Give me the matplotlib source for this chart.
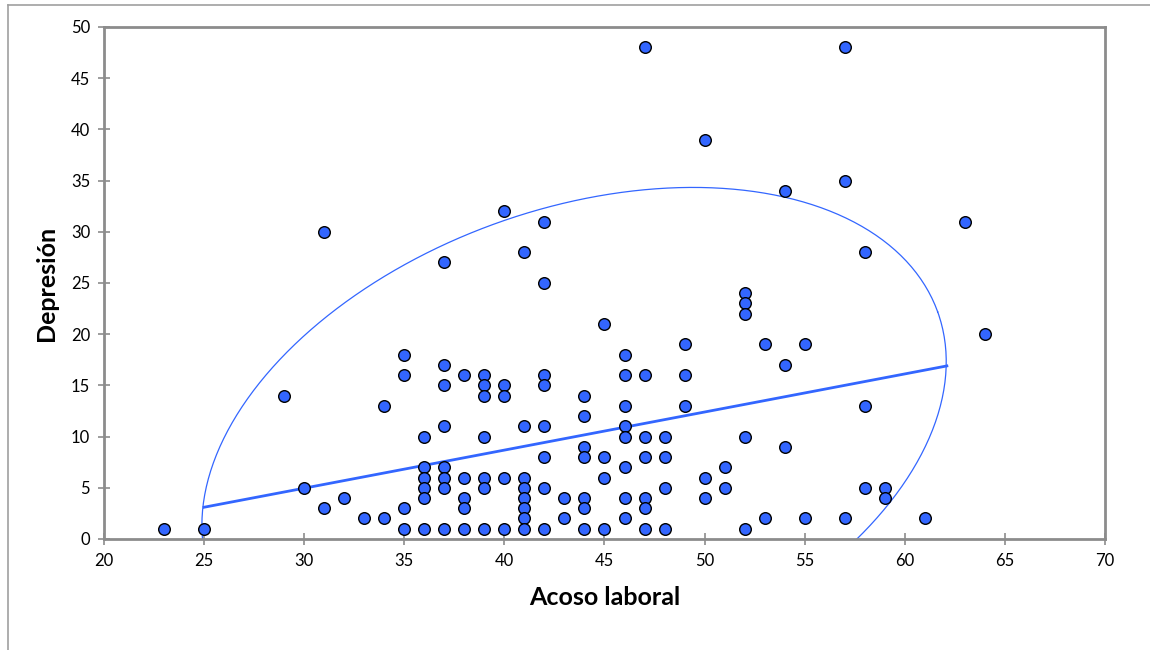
import numpy as np
import matplotlib
matplotlib.use("Agg")
import matplotlib.pyplot as plt
from matplotlib.lines import Line2D

plt.rcParams["font.family"] = ["Lato", "DejaVu Sans"]

# datos (acoso laboral, depresión)
acoso = (
    [23, 25, 29, 30, 31, 31, 32, 33, 34, 34]
    + [35] * 4 + [36] * 6 + [37] * 8 + [38] * 5 + [39] * 7 + [40] * 5
    + [41] * 8 + [42] * 8 + [43] * 2 + [44] * 7 + [45] * 4 + [46] * 8
    + [47] * 7 + [48] * 4 + [49] * 3 + [50] * 3 + [51] * 2 + [52] * 5
    + [53] * 2 + [54] * 3 + [55] * 2 + [57] * 3 + [58] * 3 + [59] * 2
    + [61, 63, 64]
)
depresion = (
    [1, 1, 14, 5, 30, 3, 4, 2, 13, 2]
    + [18, 16, 3, 1]
    + [10, 7, 6, 5, 4, 1]
    + [27, 17, 15, 11, 7, 6, 5, 1]
    + [16, 6, 4, 3, 1]
    + [16, 15, 14, 10, 6, 5, 1]
    + [32, 15, 14, 6, 1]
    + [28, 11, 6, 5, 4, 3, 2, 1]
    + [31, 25, 16, 15, 11, 8, 5, 1]
    + [4, 2]
    + [14, 12, 9, 8, 4, 3, 1]
    + [21, 8, 6, 1]
    + [18, 16, 13, 11, 10, 7, 4, 2]
    + [48, 16, 10, 8, 4, 3, 1]
    + [10, 8, 5, 1]
    + [19, 16, 13]
    + [39, 6, 4]
    + [7, 5]
    + [24, 23, 22, 10, 1]
    + [19, 2]
    + [34, 17, 9]
    + [19, 2]
    + [48, 35, 2]
    + [28, 13, 5]
    + [5, 4]
    + [2, 31, 20]
)

# línea dibujada y elipse (formas añadidas a mano en el original)
linea_x = [25, 62.1]
linea_y = [3.1, 16.9]
elipse_centro = (43.48, 9.33)
elipse_u = (18.16, 12.86)
elipse_v = (-3.97, 21.44)

azul = "#3366FF"
gris = "#8c8c8c"

fig = plt.figure(figsize=(11.5, 6.5), dpi=100)
ax = fig.add_axes([0.0904, 0.1708, 0.8705, 0.7877])

ax.scatter(acoso, depresion, s=70, c=azul, edgecolors="black",
           linewidths=1.0, zorder=3)

ax.plot(linea_x, linea_y, color=azul, lw=2.0, zorder=2)

t = np.linspace(0, 2 * np.pi, 400)
ex = elipse_centro[0] + elipse_u[0] * np.cos(t) + elipse_v[0] * np.sin(t)
ey = elipse_centro[1] + elipse_u[1] * np.cos(t) + elipse_v[1] * np.sin(t)
ax.plot(ex, ey, color=azul, lw=0.9, zorder=2)

ax.set_xlim(20, 70)
ax.set_ylim(0, 50)
ax.set_xticks(range(20, 71, 5))
ax.set_yticks(range(0, 51, 5))

for s in ["left", "bottom", "top", "right"]:
    ax.spines[s].set_color(gris)
    ax.spines[s].set_linewidth(2.0)

ax.tick_params(axis="both", direction="inout", length=8, width=1.2,
               color=gris, labelsize=12, pad=6)

ax.set_xlabel("Acoso laboral", fontsize=18, fontweight="bold", labelpad=12)
ax.set_ylabel("Depresión", fontsize=18, fontweight="bold", labelpad=9)

# borde exterior del gráfico
fig.add_artist(Line2D([0.007, 1.0], [0.992, 0.992], color="#a0a0a0",
                      lw=1.2, transform=fig.transFigure))
fig.add_artist(Line2D([0.007, 0.007], [0.0, 0.992], color="#a0a0a0",
                      lw=1.2, transform=fig.transFigure))

fig.savefig("out.png", dpi=100, facecolor="white")
